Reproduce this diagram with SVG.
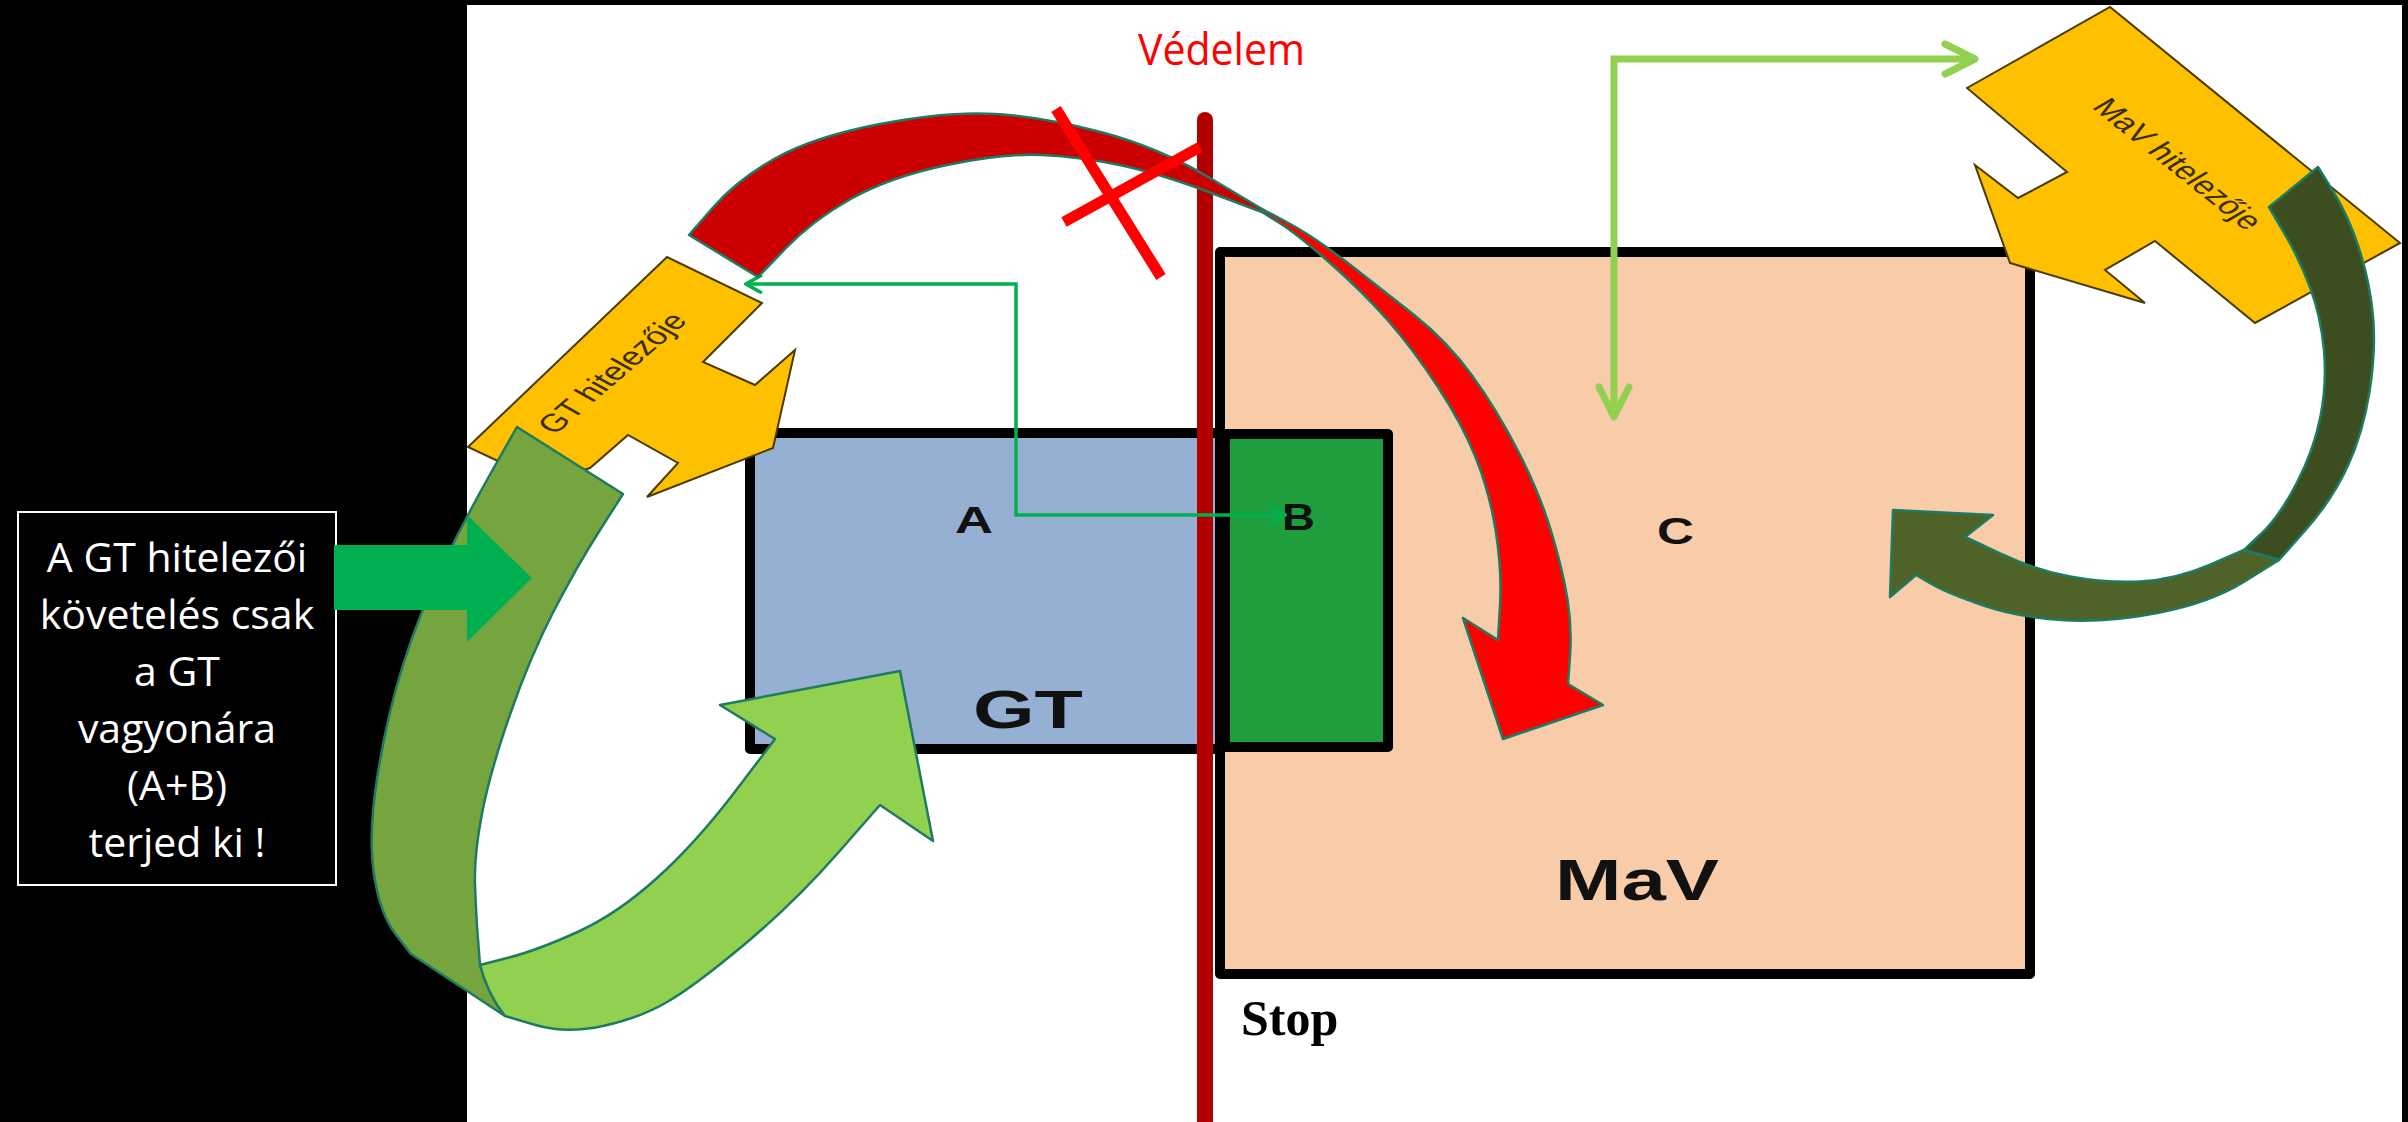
<svg xmlns="http://www.w3.org/2000/svg" width="2408" height="1122" viewBox="0 0 2408 1122">
<style>
.box{stroke:#000;stroke-width:10;stroke-linejoin:round}
.lbl{font-family:"Liberation Sans",Arial,sans-serif;font-weight:bold;fill:#111}
.rib{stroke:#1E7B61;stroke-width:2.5;stroke-linejoin:round}
.yel{fill:#FFC000;stroke:#4A3C00;stroke-width:2;stroke-linejoin:miter}
.ytxt{font-family:"Liberation Sans",Arial,sans-serif;font-size:25px;fill:#3A2E00}
.side{font-family:"Open Sans","Noto Sans",sans-serif;font-size:41px;fill:#fff;text-anchor:middle}
</style>
<defs>
<marker id="chevG" viewBox="0 0 20 20" refX="18" refY="10" markerWidth="20" markerHeight="20" markerUnits="userSpaceOnUse" orient="auto-start-reverse">
<path d="M2,1 L18,10 L2,19" fill="none" stroke="#00B050" stroke-width="3.5"/>
</marker>
<marker id="chevL" viewBox="0 0 40 40" refX="36" refY="20" markerWidth="40" markerHeight="40" markerUnits="userSpaceOnUse" orient="auto-start-reverse">
<path d="M6,5 L36,20 L6,35" fill="none" stroke="#92D050" stroke-width="7" stroke-linecap="round" stroke-linejoin="round"/>
</marker>
</defs>
<rect x="0" y="0" width="2408" height="1122" fill="#000"/>
<rect x="467" y="5" width="1935" height="1117" fill="#fff"/>

<g id="node-mav">
<rect class="box" x="1220" y="252" width="810" height="722" fill="#F8CBA9"/>
<text class="lbl" x="1657" y="544" font-size="37" textLength="37" lengthAdjust="spacingAndGlyphs">C</text>
<text class="lbl" x="1555" y="900" font-size="57" textLength="164" lengthAdjust="spacingAndGlyphs">MaV</text>
</g>
<g id="node-gt">
<rect class="box" x="750" y="433" width="470" height="316" fill="#95B0D3"/>
<text class="lbl" x="955" y="533" font-size="36" textLength="38" lengthAdjust="spacingAndGlyphs">A</text>
<text class="lbl" x="973" y="728" font-size="54" textLength="110" lengthAdjust="spacingAndGlyphs">GT</text>
</g>
<g id="node-b">
<rect class="box" x="1225" y="434" width="163" height="313" fill="#1F9E3D"/>
<text class="lbl" x="1282" y="530" font-size="37" textLength="33" lengthAdjust="spacingAndGlyphs">B</text>
</g>
<g id="node-stopline">
<line x1="1205" y1="120" x2="1205" y2="1122" stroke="#B20000" stroke-width="16" stroke-linecap="round"/>
<text x="1241" y="1035" font-family="'Liberation Serif','Times New Roman',serif" font-weight="bold" font-size="50" fill="#000">Stop</text>
<text x="1138" y="65" font-family="'Open Sans','Noto Sans',sans-serif" font-size="44" fill="#FF0000" textLength="167" lengthAdjust="spacingAndGlyphs">Védelem</text>
</g>

<g id="node-gt-creditor">
<polygon class="yel" points="468,447 667,257 762,303 703,362 755,385 795,350 773,448 647,497 678,463 628,435 590,468 545,482 500,462"/>
<text class="ytxt" transform="translate(612,373) scale(1.45,1) rotate(-51.1)" text-anchor="middle" dominant-baseline="central">GT hitelezője</text>
</g>
<g id="node-mav-creditor">
<polygon class="yel" points="1967,88 2110,7 2400,243 2255,323 2155,241 2105,270 2145,303 2010,263 1975,165 2018,198 2067,172"/>
<text class="ytxt" transform="translate(2178,164) scale(1.45,1) rotate(49.2)" text-anchor="middle" dominant-baseline="central">MaV hitelezője</text>
</g>

<g id="node-sidenote">
<rect x="18" y="512" width="318" height="373" fill="#000" stroke="#fff" stroke-width="2"/>
<text class="side" x="177" y="572">A GT hitelezői</text>
<text class="side" x="177" y="629">követelés csak</text>
<text class="side" x="177" y="686">a GT</text>
<text class="side" x="177" y="743">vagyonára</text>
<text class="side" x="177" y="800">(A+B)</text>
<text class="side" x="177" y="857">terjed ki !</text>
</g>

<g id="connectors">
<polyline points="1285,515 1016,515 1016,284 746,284" fill="none" stroke="#00B050" stroke-width="3.5" marker-start="url(#chevG)" marker-end="url(#chevG)"/>
<polyline points="1614,417 1614,59 1975,59" fill="none" stroke="#92D050" stroke-width="7" stroke-linejoin="miter" marker-start="url(#chevL)" marker-end="url(#chevL)"/>
<!-- red curved arrow: back face -->
<path class="rib" fill="#CC0000" d="M689,235 L713,207.5 Q737,180 775,158.5 Q813,137 880,124 Q947,111 995,114 Q1043,117 1100.5,132 Q1158,147 1210,178 L1262,209 L1262,212 L1210,192.5 Q1158,173 1119.5,165 Q1081,157 1042.5,155 Q1004,153 947,165 Q890,177 851.5,198.5 Q813,220 785.5,248.5 L758,277 Z"/>
<!-- red curved arrow: front face -->
<path class="rib" fill="#FF0000" d="M1262,209 L1287.5,222.5 Q1313,236 1346.5,262 Q1380,288 1413.5,314.5 Q1447,341 1472,375.5 Q1497,410 1518.5,452 Q1540,494 1551.5,532.5 Q1563,571 1567.5,599.5 Q1572,628 1570,656 L1568,684 L1603,705 L1503,739 L1463,618 L1498,640 L1500,605.5 Q1502,571 1496,532.5 Q1490,494 1476.5,459.5 Q1463,425 1438,387 Q1413,349 1388,320.5 Q1363,292 1330,263 Q1297,234 1279.5,223 L1262,212 Z"/>
<!-- crossed-out mark -->
<line x1="1056" y1="109" x2="1161" y2="277" stroke="#FF0000" stroke-width="11"/>
<line x1="1064" y1="222" x2="1200" y2="147" stroke="#FF0000" stroke-width="11"/>
<!-- left green ribbon: back face -->
<path class="rib" fill="#76A540" d="M517,427 L492,471 Q467,515 443,564.5 Q419,614 403,665 Q387,716 377.5,775.5 Q368,835 374,874.5 Q380,914 395.5,934 L411,954 L505,1016 Q488,995 480,965 L478,939.5 Q476,914 475,884.5 Q474,855 482,813.5 Q490,772 510,714.5 Q530,657 553.5,611.5 Q577,566 600,530 L623,494 Z"/>
<!-- left green ribbon: front face -->
<path class="rib" fill="#92D050" d="M480,965 Q488,995 505,1016 L535.5,1025 Q566,1034 603,1026 Q640,1018 668,1001.5 Q696,985 745.5,943.5 Q795,902 837.5,853.5 L880,805 L933,841 L900,671 L720,705 L775,739 L735.5,791 Q696,843 656.5,878.5 Q617,914 577.5,932 Q538,950 509,957.5 L480,965 Z"/>
<!-- block arrow from side note -->
<polygon fill="#00B050" points="334,545 467,545 467,515 532,578 467,642 467,610 334,610"/>
<!-- right dark green ribbon: back face -->
<path class="rib" fill="#3C4E1F" d="M2269,207 L2318,167 L2333.5,192 Q2349,217 2359.5,250 Q2370,283 2373,316.5 Q2376,350 2369.5,391.5 Q2363,433 2347.5,466.5 Q2332,500 2305.5,530 L2279,560 L2244,550 L2261.5,533.5 Q2279,517 2296.5,483.5 Q2314,450 2320.5,416.5 Q2327,383 2324,350 Q2321,317 2310.5,288.5 Q2300,260 2284.5,233.5 Z"/>
<!-- right dark green ribbon: front face -->
<path class="rib" fill="#4F6228" d="M2244,550 L2279,560 L2244.5,581.5 Q2210,603 2157.5,613 Q2105,623 2061,620 Q2017,617 1982,605 Q1947,593 1931.5,584 L1916,575 L1890,597 L1893,510 L1993,515 L1965,537 L2000,553.5 Q2035,570 2070,576.5 Q2105,583 2140,581.5 Q2175,580 2209.5,565 Z"/>
</g>
</svg>
